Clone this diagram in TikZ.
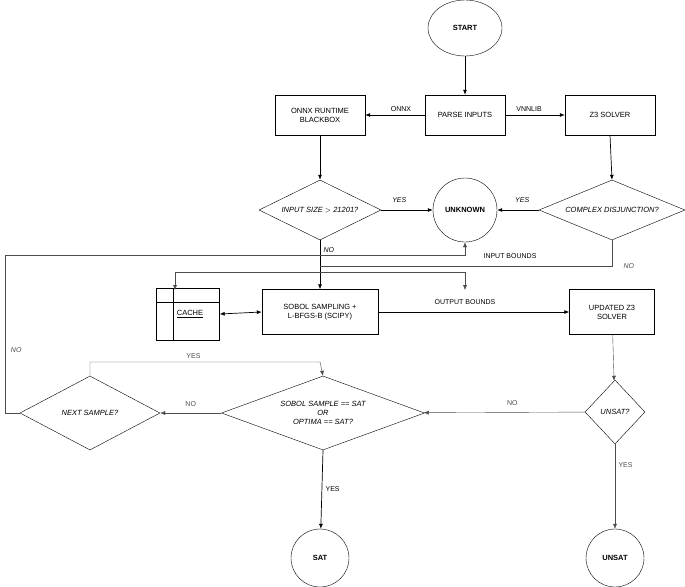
\documentclass[tikz,border=0pt]{standalone}
\usepackage{fontspec}
\setmainfont{Liberation Sans}
\usetikzlibrary{shapes.geometric,arrows.meta}
\begin{document}
\begin{tikzpicture}[x=1pt,y=-1pt,font=\fontsize{7.5}{9}\selectfont,
  box/.style={draw,minimum width=#1,minimum height=40,align=center,inner sep=1},
  dia/.style={draw,diamond,aspect=#1,inner sep=0,align=center,font=\fontsize{7.5}{9}\selectfont\itshape},
  circ/.style={draw,circle,minimum size=#1,inner sep=0,font=\fontsize{7.5}{9}\selectfont\bfseries},
  arr/.style={draw,-{Latex[length=5pt,width=4pt]},line width=0.7pt},
  thin/.style={draw,-{Latex[length=5pt,width=4pt]},gray!60!black},
  lbl/.style={font=\fontsize{7}{8}\selectfont},
  ilbl/.style={font=\fontsize{7}{8}\selectfont\itshape}]
\useasboundingbox (0,0) rectangle (685,586);
\node[draw,ellipse,minimum width=74,minimum height=56,font=\fontsize{7.5}{9}\selectfont\bfseries] (start) at (465,28) {START};
\node[box=80] (parse) at (465,115) {PARSE INPUTS};
\node[box=90] (onnx) at (320,115) {ONNX RUNTIME\\BLACKBOX};
\node[box=90] (z3) at (610,115) {Z3 SOLVER};
\node[dia=2, minimum width=122, minimum height=60] (insize) at (320,210) {INPUT SIZE $>$ 21201?};
\node[circ=64] (unk) at (465,210) {UNKNOWN};
\node[dia=2.4, minimum width=146, minimum height=60] (cd) at (612,210) {COMPLEX DISJUNCTION?};
\node[draw,minimum width=63,minimum height=52,inner sep=0] (cache) at (188,314) {};
\draw (157,302) -- (220,302) (173,288) -- (173,340);
\node at (190,314) {\underline{CACHE}};
\node[box=116,minimum height=45] (sobol) at (320,312) {SOBOL SAMPLING +\\L-BFGS-B (SCIPY)};
\node[box=85,minimum height=45] (uz3) at (612,312) {UPDATED Z3\\SOLVER};
\node[dia=1, minimum width=60, minimum height=64] (unsatq) at (615,412) {UNSAT?};
\node[dia=2.7, minimum width=203, minimum height=74] (sq) at (323,413) {SOBOL SAMPLE == SAT\\OR\\OPTIMA == SAT?};
\node[dia=1.9, minimum width=140, minimum height=74] (next) at (90,413) {NEXT SAMPLE?};
\node[circ=58] (sat) at (320,558) {SAT};
\node[circ=58] (unsat) at (615,558) {UNSAT};
\coordinate (ls) at (5,255);
\path[arr] (start) -- (parse);
\path[arr] (parse) -- node[above,lbl,pos=0.4]{ONNX} (onnx);
\path[arr] (parse) -- node[above,lbl,pos=0.4]{VNNLIB} (z3);
\path[arr] (onnx) -- (insize);
\path[arr] (z3.south) -- (cd.north);
\path[arr] (insize) -- node[above,ilbl,pos=0.35,yshift=4]{YES} (unk);
\path[arr] (cd) -- node[above,ilbl,pos=0.4,yshift=4]{YES} (unk);
\path[arr] (insize.south) -- node[right,ilbl,pos=0.2]{NO} (sobol.north);
\draw[gray!60!black] (cd.south) -- (612,266) node[right,ilbl,pos=1,xshift=8]{NO} -- (320,266);
\draw[gray!60!black] (320,272) -- (175,272);
\path[thin] (175,272) -- (175,290);
\path[thin] (320,272) -- (465,272) -- (465,290);
\node[lbl] at (465,302) {OUTPUT BOUNDS};
\path[draw,{Latex[length=5pt,width=4pt]}-{Latex[length=5pt,width=4pt]},line width=0.7pt] (cache.east) -- (sobol.west);
\path[arr] (sobol.east) -- (uz3.west);
\path[thin] (uz3) -- (unsatq);
\path[thin] (unsatq) -- node[above,lbl,pos=0.45,yshift=3]{NO} (sq);
\path[thin] (sq) -- node[above,lbl,pos=0.5,yshift=3]{NO} (next);
\path[thin] (next.north) -- (90,362) -- node[above,lbl,pos=0.45]{YES} (320,362) -- (sq.north);
\path[thin] (next.west) -- (5,413) -- node[left,ilbl,pos=0.4,xshift=20]{NO} (ls) -- (465,255) -- (unk.south);
\node[lbl] at (510,256) {INPUT BOUNDS};
\path[arr] (sq.south) -- node[right,lbl,pos=0.5]{YES} (sat);
\path[thin] (unsatq.south) -- node[right,lbl,pos=0.25]{YES} (unsat);
\end{tikzpicture}
\end{document}
